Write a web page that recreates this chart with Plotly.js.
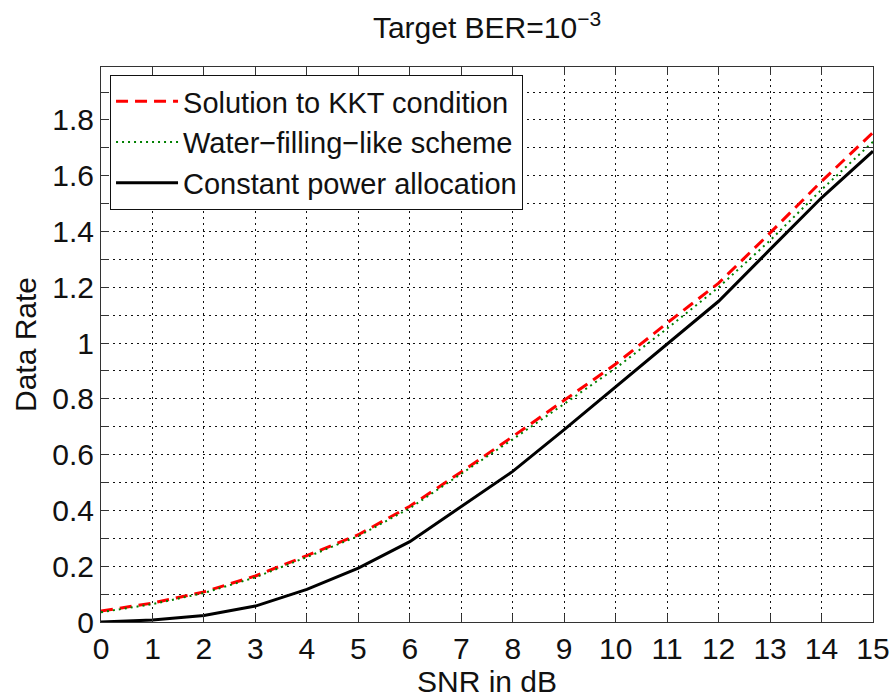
<!DOCTYPE html>
<html>
<head>
<meta charset="utf-8">
<script src="https://cdn.plot.ly/plotly-3.0.1.min.js"></script>
<style>html,body{margin:0;padding:0;background:#fff;}#chart{width:894px;height:698px;}</style>
</head>
<body>
<div id="chart"></div>
<script>
// Data
var snrDb = [0, 1, 2, 3, 4, 5, 6, 7, 8, 9, 10, 11, 12, 13, 14, 15];
var kktRate = [0.039, 0.068, 0.108, 0.165, 0.238, 0.313, 0.415, 0.538, 0.665, 0.795, 0.925, 1.072, 1.215, 1.395, 1.580, 1.755];
var waterRate = [0.035, 0.064, 0.104, 0.160, 0.233, 0.308, 0.408, 0.530, 0.655, 0.782, 0.910, 1.052, 1.200, 1.368, 1.550, 1.722];
var constRate = [0.000, 0.007, 0.023, 0.057, 0.117, 0.193, 0.288, 0.414, 0.540, 0.690, 0.843, 0.998, 1.150, 1.336, 1.521, 1.688];

var seriesNames = ["Solution to KKT condition", "Water\u2212filling\u2212like scheme", "Constant power allocation"];
var xTickVals = [0, 1, 2, 3, 4, 5, 6, 7, 8, 9, 10, 11, 12, 13, 14, 15];
var yTickVals = [0, 0.2, 0.4, 0.6, 0.8, 1.0, 1.2, 1.4, 1.6, 1.8];
var yTickText = ["0", "0.2", "0.4", "0.6", "0.8", "1", "1.2", "1.4", "1.6", "1.8"];

var FONT = "Liberation Sans, Arial, sans-serif";

var traces = [
  {x: snrDb, y: kktRate, name: seriesNames[0], mode: "lines",
   line: {color: "#ff0000", width: 3, dash: "12px,7px"}},
  {x: snrDb, y: waterRate, name: seriesNames[1], mode: "lines",
   line: {color: "#008000", width: 2, dash: "2px,4px"}},
  {x: snrDb, y: constRate, name: seriesNames[2], mode: "lines",
   line: {color: "#000000", width: 3}}
];

var axisCommon = {
  showline: true, linecolor: "#333", linewidth: 1, mirror: "ticks",
  ticks: "inside", ticklen: 8, tickcolor: "#333", tickwidth: 1,
  showgrid: true, gridcolor: "#111", gridwidth: 1, griddash: "2px,4px",
  zeroline: false,
  tickfont: {family: FONT, size: 30, color: "#111"}
};

var layout = {
  width: 894, height: 698,
  paper_bgcolor: "#ffffff", plot_bgcolor: "#ffffff",
  margin: {l: 101, r: 21, t: 67, b: 76},
  font: {family: FONT, color: "#111"},
  title: {text: "Target BER=10<sup>\u22123</sup>", font: {family: FONT, size: 30, color: "#111"},
          x: 0.5, xanchor: "center", xref: "paper", y: 0.96, yref: "container", yanchor: "middle"},
  xaxis: Object.assign({}, axisCommon, {
    range: [0, 15], tickvals: xTickVals,
    title: {text: "SNR in dB", font: {family: FONT, size: 30, color: "#111"}, standoff: 0}
  }),
  yaxis: Object.assign({}, axisCommon, {
    range: [0, 1.99], tickvals: yTickVals, ticktext: yTickText,
    title: {text: "Data Rate", font: {family: FONT, size: 30, color: "#111"}, standoff: 6},
    minor: {dtick: 0.1, tick0: 0, ticks: "inside", ticklen: 8, tickcolor: "#333",
            showgrid: true, gridcolor: "#111", gridwidth: 1, griddash: "2px,4px"}
  }),
  showlegend: true,
  legend: {
    x: 0.0117, y: 0.9856, xanchor: "left", yanchor: "top",
    bgcolor: "#ffffff", bordercolor: "#111", borderwidth: 1,
    font: {family: FONT, size: 29, color: "#111"},
    itemwidth: 62, tracegroupgap: 0
  }
};

Plotly.newPlot("chart", traces, layout, {displayModeBar: false, staticPlot: true});
</script>
</body>
</html>
